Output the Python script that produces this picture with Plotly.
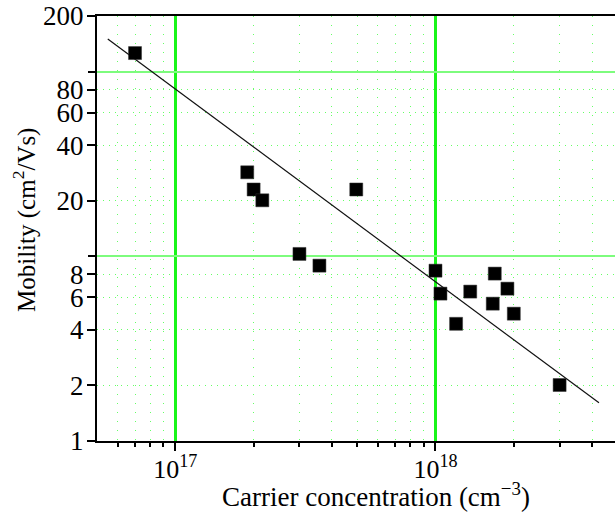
import numpy as np
import plotly.graph_objects as go

# Data
carrier_conc = [7.0e16, 1.89e17, 2.0e17, 2.16e17, 3.0e17, 3.58e17, 4.96e17,
                1.0e18, 1.045e18, 1.2e18, 1.36e18, 1.66e18, 1.69e18, 1.89e18, 2.0e18, 3.0e18]
mobility = [126, 28.5, 23.0, 20.1, 10.3, 8.9, 23.0,
            8.36, 6.28, 4.31, 6.44, 5.54, 8.06, 6.68, 4.89, 2.01]

fit_x = [5.5e16, 4.25e18]
fit_y = [150, 1.61]

y_ticks = [1, 2, 4, 6, 8, 20, 40, 60, 80, 200]
y_ticktext = ["1", "2", "4", "6", "8", "20", "40", "60", "80", "200"]
y_dotted = [2, 4, 6, 8, 20, 40, 60, 80]
y_major_grid = [10, 100]

x_major = [1e17, 1e18]
x_major_text = ["10<sup>17</sup>", "10<sup>18</sup>"]
x_minor = [6e16, 7e16, 8e16, 9e16,
           2e17, 3e17, 4e17, 5e17, 6e17, 7e17, 8e17, 9e17,
           2e18, 3e18, 4e18]

x_title = "Carrier concentration (cm<sup>\u22123</sup>)"
y_title = "Mobility (cm<sup>2</sup>/Vs)"

FONT = "Liberation Serif"
x_range = [np.log10(5e16), 18.69]
y_range = [0, np.log10(200)]

fig = go.Figure()
fig.add_trace(go.Scatter(x=fit_x, y=fit_y, mode="lines",
                         line=dict(color="#111111", width=1.2),
                         showlegend=False, hoverinfo="skip"))
fig.add_trace(go.Scatter(x=carrier_conc, y=mobility, mode="markers",
                         marker=dict(symbol="square", size=13, color="black",
                                     line=dict(color="#333333", width=0.5)),
                         showlegend=False))
# helper trace so the overlay axis (major y grid) is drawn
fig.add_trace(go.Scatter(x=[None], y=[None], yaxis="y2", showlegend=False,
                         hoverinfo="skip"))

fig.update_layout(
    width=616, height=512,
    margin=dict(l=97, r=1, t=16, b=71),
    paper_bgcolor="white", plot_bgcolor="white",
    font=dict(family=FONT, size=25, color="black"),
    xaxis=dict(
        type="log", range=x_range, automargin=False,
        tickmode="array", tickvals=x_major, ticktext=x_major_text,
        ticks="outside", ticklen=8, tickwidth=1.5, tickcolor="black",
        ticklabelstandoff=-4,
        showgrid=True, gridcolor="#19f519", gridwidth=2.5,
        showline=True, linecolor="black", linewidth=2, mirror=True,
        zeroline=False,
        tickfont=dict(family=FONT, size=26),
        minor=dict(tickmode="array", tickvals=x_minor, ticks="outside",
                   ticklen=4, tickwidth=1.5, tickcolor="black",
                   showgrid=True, gridcolor="#66ff66", gridwidth=1,
                   griddash="1px,8px"),
    ),
    yaxis=dict(
        type="log", range=y_range, automargin=False,
        tickmode="array", tickvals=y_ticks, ticktext=y_ticktext,
        ticks="outside", ticklen=8, tickwidth=1.5, tickcolor="black",
        ticklabelstandoff=-2,
        showgrid=False,
        showline=True, linecolor="black", linewidth=2,
        zeroline=False,
        tickfont=dict(family=FONT, size=27),
        minor=dict(tickmode="array", tickvals=y_dotted, ticks="",
                   showgrid=True, gridcolor="#66ff66", gridwidth=1,
                   griddash="1px,5px"),
    ),
    yaxis2=dict(
        type="log", range=y_range, overlaying="y", side="left",
        automargin=False,
        tickmode="array", tickvals=y_major_grid,
        showticklabels=False, ticks="outside", ticklen=8, tickwidth=1.5,
        tickcolor="black",
        showgrid=True, gridcolor="#7dfc7d", gridwidth=1.5,
        showline=False, zeroline=False,
    ),
    annotations=[
        dict(text=x_title, xref="paper", yref="paper",
             x=(376 - 97) / 518, y=-(495 - 441) / 425,
             xanchor="center", yanchor="middle", showarrow=False,
             font=dict(family=FONT, size=27)),
        dict(text=y_title, xref="paper", yref="paper",
             x=-(97 - 24) / 518, y=(441 - 220) / 425,
             xanchor="center", yanchor="middle", showarrow=False,
             textangle=-90, font=dict(family=FONT, size=25)),
    ],
)

fig.write_html("out.html")
